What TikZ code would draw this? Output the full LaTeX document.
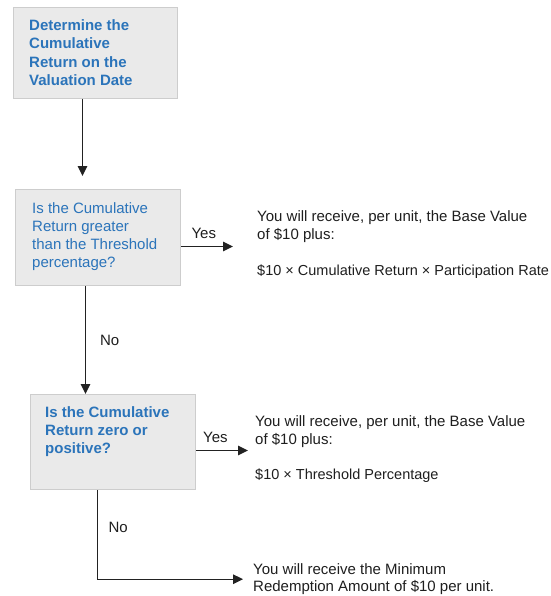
\documentclass[tikz,border=0pt]{standalone}
\usepackage{fontspec}
\setmainfont{Liberation Sans}
\usepackage{xcolor}
\definecolor{boxfill}{HTML}{EAEAEA}
\definecolor{boxborder}{HTML}{CDCDCD}
\definecolor{questioncolor}{HTML}{2B74BA}
\definecolor{answercolor}{HTML}{1E1E1E}
\definecolor{flowcolor}{HTML}{222222}
\usetikzlibrary{positioning,arrows.meta}
\tikzset{
    stepbox/.style={
        rectangle,
        draw=boxborder,
        fill=boxfill,
        line width=1pt,
        anchor=north west,
    },
    question/.style={
        anchor=north west,
        inner sep=0pt,
        align=left,
        text=questioncolor,
        font=\fontsize{15}{18}\selectfont,
    },
    answer/.style={
        anchor=north west,
        inner sep=0pt,
        align=left,
        text=answercolor,
        font=\fontsize{15}{18}\selectfont,
    },
    formula/.style={
        anchor=north west,
        inner sep=0pt,
        text=answercolor,
        font=\fontsize{14.5}{17}\selectfont,
    },
    flow/.style={
        -{Triangle[length=10pt,width=9.5pt]},
        line width=1.3pt,
        flowcolor,
    },
    tag/.style={
        inner sep=0pt,
        text=answercolor,
        font=\fontsize{15}{18}\selectfont,
    },
}

\begin{document}
\begin{tikzpicture}[x=1pt, y=-1pt]
    \useasboundingbox (0,0) rectangle (550,596);

    % Boxes
    \node[stepbox, minimum width=164pt, minimum height=91pt] (box1) at (13,7) {};
    \node[stepbox, minimum width=165pt, minimum height=96pt] (box2) at (15,189) {};
    \node[stepbox, minimum width=165pt, minimum height=95pt] (box3) at (30,394) {};

    % Box texts
    \node[question, font=\fontsize{15}{18.3}\selectfont\bfseries] (start) at (29,19.5)
        {Determine the\\Cumulative\\Return on the\\Valuation Date};
    \node[question] (ask1) at (32,202.5)
        {Is the Cumulative\\Return greater\\than the Threshold\\percentage?};
    \node[question, font=\fontsize{15}{18}\selectfont\bfseries] (ask2) at (45,406.5)
        {Is the Cumulative\\Return zero or\\positive?};

    % Outcomes
    \node[answer] (ans1) at (257,210.5)
        {You will receive, per unit, the Base Value\\of \$10 plus:};
    \node[formula] (calc1) at (257,264.5)
        {\$10 × Cumulative Return × Participation Rate};
    \node[answer] (ans2) at (255,415.5)
        {You will receive, per unit, the Base Value\\of \$10 plus:};
    \node[formula] (calc2) at (255,468.5)
        {\$10 × Threshold Percentage};
    \node[answer, font=\fontsize{15}{17}\selectfont] (ans3) at (253,563.5)
        {You will receive the Minimum\\Redemption Amount of \$10 per unit.};

    % Connectors
    \draw[flow, shorten >=13pt] ([xshift=-13pt]box1.south)
        -- ([xshift=-13pt]box1.south |- box2.north);
    \draw[flow, shorten >=24pt] ([yshift=-9pt]box2.east)
        -- ([yshift=-9pt]box2.east -| ans1.west)
        node[tag, pos=0.3, above=7.5pt] (yes1) {Yes};
    \draw[flow] ([xshift=-12.5pt]box2.south)
        -- ([xshift=-12.5pt]box2.south |- box3.north)
        node[tag, midway, right=14pt] (no1) {No};
    \draw[flow, shorten >=7pt] ([yshift=-8.5pt]box3.east)
        -- ([yshift=-8.5pt]box3.east -| ans2.west)
        node[tag, pos=0.33, above=7.5pt] (yes2) {Yes};
    \draw[flow, shorten >=10pt] ([xshift=-15.5pt]box3.south)
        |- (ans3.west)
        node[tag, pos=0.21, right=10.5pt] (no2) {No};

\end{tikzpicture}
\end{document}
